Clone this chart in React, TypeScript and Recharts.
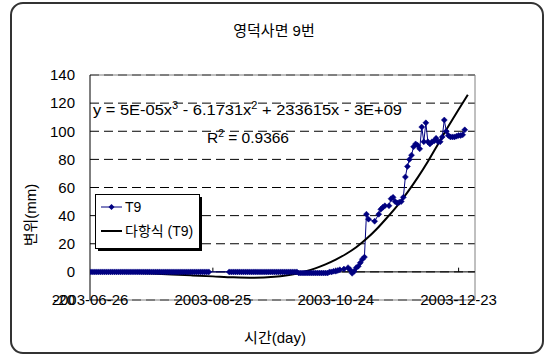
import React from "react";
import {
  ComposedChart,
  Line,
  XAxis,
  YAxis,
  CartesianGrid,
  ReferenceLine,
} from "recharts";

const title = "영덕사면 9번";
const xTitle = "시간(day)";
const yTitle = "변위(mm)";
const seriesName = "T9";
const trendName = "다항식 (T9)";
const rSquared = "R";

// x values are days since 2003-06-26
const xTickDays = [0, 60, 120, 180];
const xTickLabels = ["2003-06-26", "2003-08-25", "2003-10-24", "2003-12-23"];
const yTicks = [-20, 0, 20, 40, 60, 80, 100, 120, 140];
const xTickMarks = [60, 120, 180];

const t9Days = [
  0, 1, 2, 3, 4, 5, 6, 7, 8, 9, 10, 11, 12, 13, 14, 15, 16, 17, 18, 19,
  20, 21, 22, 23, 24, 25, 26, 27, 28, 29, 30, 31, 32, 33, 34, 35, 36, 37, 38, 39,
  40, 41, 42, 43, 44, 45, 46, 47, 48, 49, 50, 51, 52, 53, 54, 55, 56, 57, 58,
  68, 69, 70, 71, 72, 73, 74, 75, 76, 77, 78, 79, 80, 81, 82, 83, 84, 85, 86, 87,
  88, 89, 90, 91, 92, 93, 94, 95, 96, 97, 98, 99, 100, 101, 102, 103, 104, 105,
  106, 107, 108, 109, 110, 111, 112, 113, 114, 115, 116, 117, 118, 119, 120,
  121, 122, 124, 126, 127, 128, 129, 130, 131, 132, 133, 134, 135, 136,
  139, 141, 142, 143, 144, 146, 147, 148, 149, 150, 151, 152, 153, 154, 155,
  156, 157, 158, 159, 160, 161, 162, 163, 164, 165, 166, 167, 168, 169, 170,
  171, 172, 173, 174, 175, 176, 177, 178, 179, 180, 181, 182, 183, 184, 185,
];
const t9Values = [
  0, 0, 0, 0, 0, 0, 0, 0, 0, 0, 0, 0, 0, 0, 0, 0, 0, 0, 0, 0,
  0, 0, 0, 0, 0, 0, 0, 0, 0, 0, 0, 0, 0, 0, 0, 0, 0, 0, 0, 0,
  0, 0, 0, 0, 0, 0, 0, 0, 0, 0, 0, 0, 0, 0, 0, 0, 0, 0, 0,
  0, 0, 0, 0, 0, 0, 0, 0, 0, 0, 0, 0, 0, 0, 0, 0, 0, 0, 0, 0,
  0, 0, 0, 0, 0, 0, 0, 0, 0, 0, 0, 0, 0, 0, -0.8, -0.8, -0.8, -0.8,
  -0.8, -0.8, -0.8, -0.8, -0.8, -0.8, -0.8, -0.8, -0.8, -0.8, -0.8, 0, 0,
  0.5, 0.5, 1, 1.5, 2, 3, 1.5, -1, 0.5, 3, 4, 6.5, 9, 10.5,
  41, 37.5, 36, 41, 44.5, 46, 47, 47, 52, 53, 50, 49, 49.5, 50, 53,
  67.5, 75, 80, 83, 89, 91, 90, 87.5, 103, 92.5, 106, 92.5, 91, 92.5, 93,
  95, 92.5, 92.5, 96, 108, 100, 97, 96, 96, 96, 96.5, 97, 97, 97.5, 101,
];

const trendDays = [
  0, 10, 20, 30, 40, 50, 60, 70, 80, 90, 100, 105, 110, 115, 120, 125, 130,
  135, 140, 145, 150, 155, 160, 165, 170, 175, 180, 184.5,
];
const trendValues = [
  0, -0.2, -0.6, -1.2, -1.8, -2.5, -3.2, -3.9, -4.2, -3.5, -1.5, 0.3, 2.5,
  5.3, 8.7, 12.7, 17.5, 23.5, 30.5, 38.5, 47, 56.5, 67, 78.5, 91, 103.5,
  115.5, 126,
];

const t9Data = t9Days.map((d, i) => ({ day: d, value: t9Values[i] }));
const trendData = trendDays.map((d, i) => ({ day: d, value: trendValues[i] }));

const FONT = "'Liberation Sans', Arial, 'Noto Sans CJK KR', sans-serif";
const NAVY = "#000080";

function Diamond(props: any) {
  const { cx, cy, index } = props;
  if (cx == null || cy == null) return <g key={`d-${index}`} />;
  const r = 3;
  return (
    <polygon
      key={`d-${index}`}
      points={`${cx},${cy - r} ${cx + r},${cy} ${cx},${cy + r} ${cx - r},${cy}`}
      fill={NAVY}
      stroke={NAVY}
      strokeWidth={0.5}
    />
  );
}

function XTick(props: any) {
  const { x, y, payload } = props;
  const i = xTickDays.indexOf(payload.value);
  return (
    <text
      x={x}
      y={y}
      dy={5}
      textAnchor="middle"
      fontSize={15}
      fontFamily={FONT}
      fill="#000"
    >
      {i >= 0 ? xTickLabels[i] : ""}
    </text>
  );
}

export default function App() {
  return (
    <div
      style={{
        position: "absolute",
        left: 0,
        top: 0,
        width: 548,
        height: 357,
        background: "#fff",
        fontFamily: FONT,
      }}
    >
      <ComposedChart
        width={548}
        height={357}
        margin={{ top: 75, right: 73, bottom: 27, left: 30 }}
      >
        <CartesianGrid
          vertical={false}
          stroke="#000"
          strokeDasharray="9 5"
        />
        <XAxis
          type="number"
          dataKey="day"
          domain={[0, 188]}
          ticks={xTickDays}
          allowDataOverflow
          height={30}
          tickSize={0}
          tickMargin={0}
          tickLine={false}
          axisLine={{ stroke: "#808080" }}
          tick={<XTick />}
        />
        <YAxis
          type="number"
          domain={[-20, 140]}
          ticks={yTicks}
          width={60}
          tickSize={0}
          tickMargin={15}
          tickLine={false}
          axisLine={{ stroke: "#000" }}
          tick={{ fontSize: 15, fill: "#000", fontFamily: FONT }}
        />
        <ReferenceLine y={140} stroke="#808080" />
        <ReferenceLine x={188} stroke="#808080" />
        <ReferenceLine y={0} stroke="#000" />
        {xTickMarks.map((d) => (
          <ReferenceLine
            key={`tm-${d}`}
            segment={[
              { x: d, y: 0 },
              { x: d, y: 3 },
            ]}
            stroke="#000"
          />
        ))}
        <Line
          data={t9Data}
          dataKey="value"
          type="linear"
          stroke={NAVY}
          strokeWidth={1}
          dot={Diamond}
          activeDot={false}
          isAnimationActive={false}
        />
        <Line
          data={trendData}
          dataKey="value"
          type="monotone"
          stroke="#000"
          strokeWidth={2}
          dot={false}
          activeDot={false}
          isAnimationActive={false}
        />
      </ComposedChart>

      <svg
        width={548}
        height={357}
        style={{ position: "absolute", left: 0, top: 0, pointerEvents: "none" }}
        fontFamily={FONT}
      >
        <rect
          x={11}
          y={3}
          width={532}
          height={350}
          rx={12}
          fill="none"
          stroke="#333"
          strokeWidth={2}
        />
        <text x={274} y={36} textAnchor="middle" fontSize={15} fill="#000">
          {title}
        </text>
        <text x={275} y={343} textAnchor="middle" fontSize={15} fill="#000">
          {xTitle}
        </text>
        <text
          x={0}
          y={0}
          transform="translate(36,215) rotate(-90)"
          textAnchor="middle"
          fontSize={15}
          fill="#000"
        >
          {yTitle}
        </text>

        <text x={93} y={115} fontSize={15} fill="#000" textLength={309} lengthAdjust="spacingAndGlyphs">
          y = 5E-05x<tspan dy={-6} fontSize={10}>3</tspan>
          <tspan dy={6}> - 6.1731x</tspan>
          <tspan dy={-6} fontSize={10}>2</tspan>
          <tspan dy={6}> + 233615x - 3E+09</tspan>
        </text>
        <text x={207} y={143} fontSize={15} fill="#000" textLength={82} lengthAdjust="spacingAndGlyphs">
          {rSquared}
          <tspan dy={-6} fontSize={10}>2</tspan>
          <tspan dy={6}> = 0.9366</tspan>
        </text>

        <rect x={98} y={197} width={104} height={54} fill="#000" />
        <rect x={95.5} y={194.5} width={104} height={54} fill="#fff" stroke="#000" strokeWidth={1} />
        <line x1={101} y1={207} x2={122} y2={207} stroke={NAVY} strokeWidth={1} />
        <polygon points="111.5,204 114.5,207 111.5,210 108.5,207" fill={NAVY} />
        <text x={125} y={212} fontSize={14} fill="#000">
          {seriesName}
        </text>
        <line x1={101} y1={231} x2={122} y2={231} stroke="#000" strokeWidth={2} />
        <text x={125} y={236} fontSize={14} fill="#000">
          {trendName}
        </text>
      </svg>
    </div>
  );
}
